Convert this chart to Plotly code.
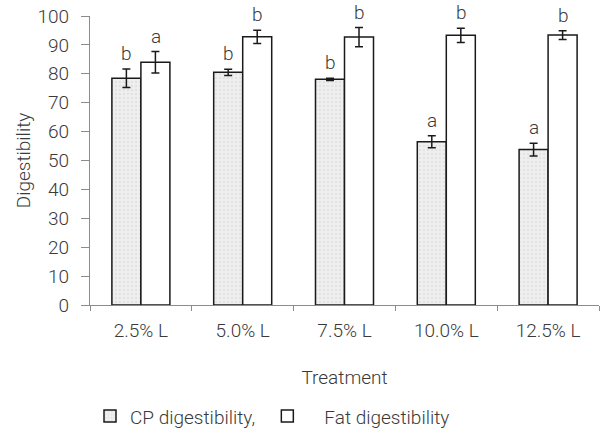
import plotly.graph_objects as go

categories = ["2.5% L", "5.0% L", "7.5% L", "10.0% L", "12.5% L"]
cp_values = [78.5, 80.5, 78.1, 56.5, 53.8]
cp_err = [3.2, 1.1, 0.4, 2.1, 2.2]
fat_values = [84.0, 92.8, 92.7, 93.3, 93.4]
fat_err = [3.7, 2.3, 3.3, 2.5, 1.5]
cp_letters = ["b", "b", "b", "a", "a"]
fat_letters = ["a", "b", "b", "b", "b"]

FONT = "Roboto"
TXT = "#3a3a3a"
AX = "#8c8c8c"
FS = 19

fig = go.Figure()
fig.add_trace(go.Bar(
    x=categories, y=cp_values, name="CP digestibility,",
    marker=dict(color="#ececec", line=dict(color="#1a1a1a", width=1.5),
                pattern=dict(shape=".", fgcolor="#d4d4d4", bgcolor="#efefef", size=4, solidity=0.3)),
    error_y=dict(type="data", array=cp_err, color="#1a1a1a", thickness=1.5, width=4),
    legend="legend",
))
fig.add_trace(go.Bar(
    x=categories, y=fat_values, name="Fat digestibility",
    marker=dict(color="white", line=dict(color="#1a1a1a", width=1.5)),
    error_y=dict(type="data", array=fat_err, color="#1a1a1a", thickness=1.5, width=4),
    legend="legend2",
))

for c, v, e, t in zip(categories, cp_values, cp_err, cp_letters):
    fig.add_annotation(x=c, y=v + e, text=t, showarrow=False, xshift=-14,
                       yanchor="bottom", yshift=2, font=dict(family=FONT, size=FS, color=TXT, weight=300))
for c, v, e, t in zip(categories, fat_values, fat_err, fat_letters):
    fig.add_annotation(x=c, y=v + e, text=t, showarrow=False, xshift=15,
                       yanchor="bottom", yshift=2, font=dict(family=FONT, size=FS, color=TXT, weight=300))

legend_font = dict(family=FONT, size=FS, color=TXT, weight=300)
fig.update_layout(
    width=600, height=430,
    margin=dict(l=90, r=1, t=16, b=125, autoexpand=False),
    paper_bgcolor="white", plot_bgcolor="white",
    barmode="group", bargap=0.43, bargroupgap=0,
    font=dict(family=FONT, size=FS, color=TXT, weight=300),
    showlegend=True,
    legend=dict(orientation="h", x=0.0, xanchor="left", y=-0.385, yanchor="middle",
                font=legend_font, itemwidth=30, bgcolor="rgba(0,0,0,0)"),
    legend2=dict(orientation="h", x=0.315, xanchor="left", y=-0.385, yanchor="middle",
                 font=legend_font, itemwidth=64, bgcolor="rgba(0,0,0,0)"),
    xaxis=dict(
        title=dict(text="Treatment", standoff=29, font=dict(family=FONT, size=FS, color=TXT, weight=300)),
        showline=True, linecolor=AX, linewidth=1.3,
        ticks="outside", tickson="boundaries", ticklen=5, tickcolor=AX,
        ticklabelstandoff=8, automargin=False,
        showgrid=False,
    ),
    yaxis=dict(
        title=dict(text="Digestibility", standoff=1, font=dict(family=FONT, size=FS, color=TXT, weight=300)),
        range=[0, 100], dtick=10, tick0=0,
        showline=True, linecolor=AX, linewidth=1.3,
        ticks="outside", ticklen=8, tickcolor=AX,
        ticklabelstandoff=8, automargin=False,
        showgrid=False, zeroline=False,
    ),
)

fig.write_html("out.html", config={"displayModeBar": False},
               post_script="document.body.style.margin='0';")
